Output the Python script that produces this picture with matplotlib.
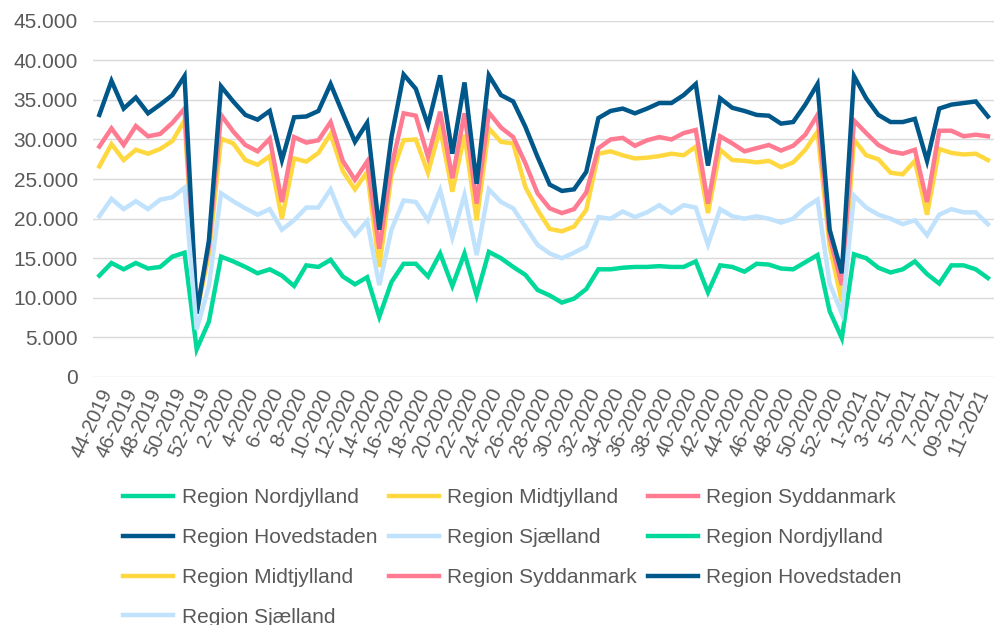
import matplotlib

matplotlib.use("Agg")
import matplotlib.pyplot as plt
from matplotlib.ticker import FuncFormatter

weeks = [
    "44-2019", "45-2019", "46-2019", "47-2019", "48-2019", "49-2019", "50-2019", "51-2019", "52-2019",
    "1-2020", "2-2020", "3-2020", "4-2020", "5-2020", "6-2020", "7-2020", "8-2020", "9-2020", "10-2020",
    "11-2020", "12-2020", "13-2020", "14-2020", "15-2020", "16-2020", "17-2020", "18-2020", "19-2020",
    "20-2020", "21-2020", "22-2020", "23-2020", "24-2020", "25-2020", "26-2020", "27-2020", "28-2020",
    "29-2020", "30-2020", "31-2020", "32-2020", "33-2020", "34-2020", "35-2020", "36-2020", "37-2020",
    "38-2020", "39-2020", "40-2020", "41-2020", "42-2020", "43-2020", "44-2020", "45-2020", "46-2020",
    "47-2020", "48-2020", "49-2020", "50-2020", "51-2020", "52-2020", "53-2020",
    "1-2021", "2-2021", "3-2021", "4-2021", "5-2021", "6-2021", "7-2021", "08-2021", "09-2021",
    "10-2021", "11-2021", "12-2021",
]

nordjylland = [
    12800, 14400, 13600, 14400, 13700, 13900, 15200, 15700, 3500, 7000,
    15200, 14600, 13900, 13100, 13600, 12800, 11500, 14100, 13900, 14800,
    12700, 11700, 12600, 7600, 12000, 14300, 14300, 12700, 15600, 11500,
    15600, 10300, 15800, 15000, 13900, 12900, 11000, 10300, 9400, 9900,
    11100, 13600, 13600, 13800, 13900, 13900, 14000, 13900, 13900, 14600,
    10700, 14100, 13900, 13300, 14300, 14200, 13700, 13600, 14500, 15400,
    8300, 4900, 15500, 15000, 13800, 13200, 13600, 14600, 13000, 11800,
    14100, 14100, 13600, 12500,
]
midtjylland = [
    26600, 29400, 27400, 28700, 28200, 28800, 29800, 32400, 8100, 15500,
    30100, 29500, 27400, 26800, 27900, 20000, 27600, 27200, 28300, 30700,
    26000, 23700, 25900, 13900, 25500, 29900, 30000, 25800, 31400, 23400,
    30600, 19800, 31400, 29700, 29500, 24000, 21100, 18700, 18400, 19000,
    21100, 28200, 28500, 28000, 27600, 27700, 27900, 28200, 28000, 29100,
    20700, 28700, 27400, 27300, 27100, 27300, 26500, 27100, 28700, 31000,
    16500, 9500, 30000, 28000, 27500, 25800, 25600, 27300, 20500, 28800,
    28300, 28100, 28200, 27400,
]
syddanmark = [
    29100, 31400, 29300, 31700, 30400, 30700, 32100, 33900, 8300, 16500,
    33100, 31000, 29300, 28500, 30100, 22100, 30300, 29600, 29900, 32200,
    27300, 24900, 27200, 16200, 26600, 33300, 33000, 27800, 33500, 25100,
    33300, 21900, 33400, 31500, 30300, 27000, 23200, 21300, 20700, 21200,
    23300, 28900, 30000, 30200, 29200, 29900, 30300, 30000, 30800, 31200,
    21900, 30400, 29500, 28500, 28900, 29300, 28600, 29200, 30600, 33100,
    17700, 11600, 32400, 30800, 29300, 28500, 28200, 28700, 22100, 31100,
    31100, 30400, 30600, 30400,
]
hovedstaden = [
    33100, 37400, 33900, 35300, 33300, 34400, 35600, 38000, 8000, 17200,
    36700, 34800, 33100, 32500, 33600, 27400, 32800, 32900, 33600, 37000,
    33300, 29700, 32100, 18600, 30300, 38200, 36400, 31800, 38100, 28200,
    37200, 24400, 38100, 35600, 34800, 31600, 27800, 24300, 23500, 23700,
    25900, 32700, 33600, 33900, 33300, 33900, 34600, 34600, 35600, 37000,
    26700, 35200, 34000, 33600, 33100, 33000, 32000, 32200, 34400, 37000,
    18600, 13100, 38000, 35200, 33100, 32200, 32200, 32600, 27300, 33900,
    34400, 34600, 34800, 32900,
]
sjaelland = [
    20300, 22500, 21200, 22200, 21200, 22400, 22700, 23900, 6000, 11500,
    23200, 22200, 21300, 20500, 21200, 18600, 19800, 21400, 21400, 23700,
    19900, 17900, 19700, 11600, 18600, 22300, 22100, 19800, 23600, 17600,
    23000, 15400, 23700, 22100, 21300, 19000, 16700, 15600, 15000, 15700,
    16500, 20200, 20000, 20900, 20200, 20800, 21700, 20700, 21700, 21400,
    16700, 21200, 20300, 20000, 20300, 20000, 19500, 20000, 21400, 22400,
    11800, 8000, 22900, 21400, 20500, 20000, 19300, 19800, 17900, 20500,
    21200, 20800, 20800, 19300,
]

regions = ["Region Nordjylland", "Region Midtjylland", "Region Syddanmark",
           "Region Hovedstaden", "Region Sjælland"]
colors = ["#00D99A", "#FFD83F", "#FF7B92", "#00578A", "#C0E2FD"]
series = [nordjylland, midtjylland, syddanmark, hovedstaden, sjaelland]

plt.rcParams["font.family"] = ["Liberation Sans", "DejaVu Sans"]

fig = plt.figure(figsize=(9.94, 6.25), dpi=100)
ax = fig.add_axes([0.0938, 0.3968, 0.9062, 0.5701])

x = list(range(len(weeks)))
lines = []
for values, color, name in zip(series, colors, regions):
    (ln,) = ax.plot(x, values, color=color, linewidth=3.2, label=name,
                    solid_joinstyle="miter", zorder=3)
    lines.append(ln)

ax.set_xlim(-0.5, len(weeks) - 0.5)
ax.set_ylim(0, 45000)
ax.set_yticks(range(0, 45001, 5000))
ax.yaxis.set_major_formatter(FuncFormatter(lambda v, _: f"{v:,.0f}".replace(",", ".")))
ax.set_xticks(x[::2])
ax.set_xticklabels(weeks[::2], rotation=65, ha="right", rotation_mode="anchor")

ax.grid(axis="y", color="#D9D9D9", linewidth=1.0, zorder=0)
for side in ["top", "right", "left", "bottom"]:
    ax.spines[side].set_visible(False)
ax.tick_params(axis="both", length=0, colors="#595959")
ax.tick_params(axis="y", pad=11, labelsize=15)
ax.tick_params(axis="x", pad=6, labelsize=14.5)

# the chart lists every region twice; legend fills row by row
nord, midt, syd, hoved, sjael = lines
order = [nord, hoved, midt, sjael, midt, sjael, syd, syd, nord, hoved]
fig.legend(order, [l.get_label() for l in order], loc="upper left",
           bbox_to_anchor=(0.124, 0.219), ncol=3, frameon=False,
           fontsize=15, labelcolor="#595959", handlelength=2.4,
           handletextpad=0.4, columnspacing=0.55, labelspacing=1.0,
           borderpad=0, borderaxespad=0)

fig.savefig("out.png", dpi=100)
